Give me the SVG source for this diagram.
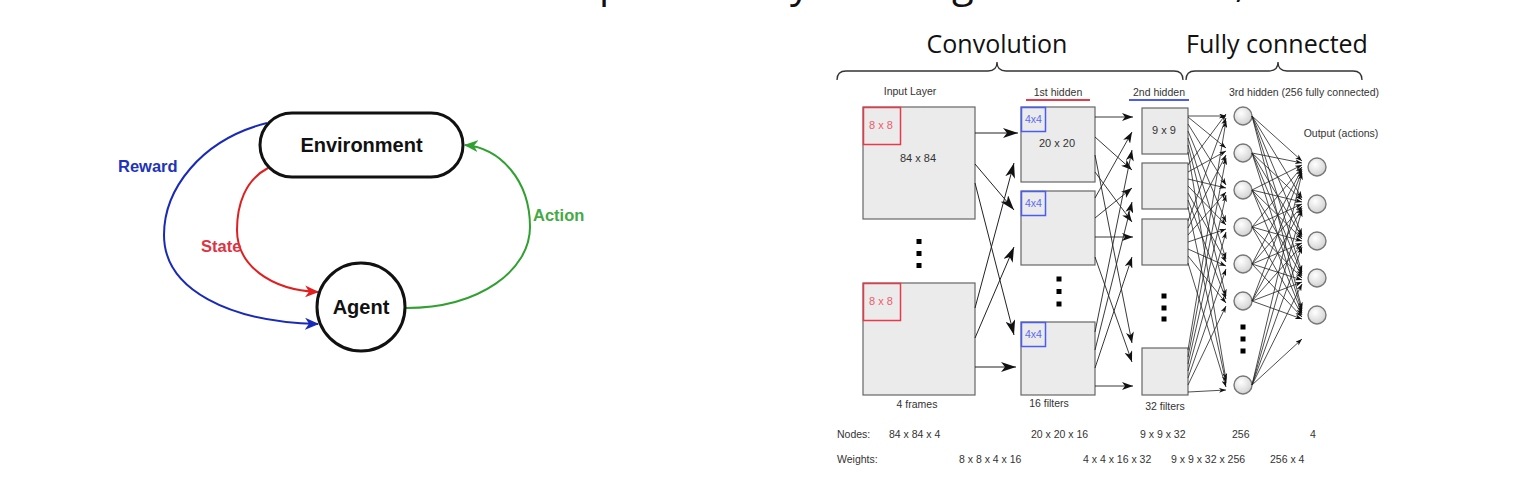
<svg xmlns="http://www.w3.org/2000/svg" width="1522" height="478" viewBox="0 0 1522 478">
<style>
.t{font-family:"Liberation Sans",Arial,sans-serif;font-size:10.5px;fill:#333}
.big{font-family:"Open Sans","DejaVu Sans",sans-serif;font-size:25px;fill:#111}
.lbl{font-family:"Liberation Sans",Arial,sans-serif;font-weight:bold;font-size:16.5px}
.box{fill:#ebebeb;stroke:#666;stroke-width:1.2}
.red{fill:none;stroke:#e8384a;stroke-width:1.5}
.blu{fill:none;stroke:#4a5cf5;stroke-width:1.5}
.nd{fill:url(#cg);stroke:#777;stroke-width:1.4}
.c1 line{stroke:#222;stroke-width:1;marker-end:url(#ab)}
.c2 line{stroke:#222;stroke-width:0.9;marker-end:url(#am)}
.c3 line{stroke:#222;stroke-width:0.8;marker-end:url(#as)}
.dot{fill:#000}
</style>
<defs>
<radialGradient id="cg" cx="0.4" cy="0.35" r="0.7"><stop offset="0" stop-color="#ffffff"/><stop offset="1" stop-color="#cfcfcf"/></radialGradient>
<marker id="ab" viewBox="0 0 15 10" refX="15" refY="5" markerWidth="15" markerHeight="10" markerUnits="userSpaceOnUse" orient="auto"><path d="M0,0 L15,5 L0,10 L4,5 z" fill="#111"/></marker>
<marker id="am" viewBox="0 0 11 8" refX="11" refY="4" markerWidth="11" markerHeight="8" markerUnits="userSpaceOnUse" orient="auto"><path d="M0,0 L11,4 L0,8 L3,4 z" fill="#111"/></marker>
<marker id="as" viewBox="0 0 7 5" refX="7" refY="2.5" markerWidth="7" markerHeight="5" markerUnits="userSpaceOnUse" orient="auto"><path d="M0,0 L7,2.5 L0,5 L2,2.5 z" fill="#111"/></marker>
<marker id="mb" viewBox="0 0 14 12" refX="13" refY="6" markerWidth="14" markerHeight="12" markerUnits="userSpaceOnUse" orient="auto"><path d="M0,0 L14,6 L0,12 L4,6 z" fill="#1a2ab8"/></marker>
<marker id="mr" viewBox="0 0 14 12" refX="13" refY="6" markerWidth="14" markerHeight="12" markerUnits="userSpaceOnUse" orient="auto"><path d="M0,0 L14,6 L0,12 L4,6 z" fill="#e02020"/></marker>
<marker id="mg" viewBox="0 0 14 12" refX="13" refY="6" markerWidth="14" markerHeight="12" markerUnits="userSpaceOnUse" orient="auto"><path d="M0,0 L14,6 L0,12 L4,6 z" fill="#30a030"/></marker>
</defs>
<rect width="1522" height="478" fill="#fff"/>

<!-- cut-off title (only descenders visible) -->
<text class="big" style="font-size:40px" y="-3"><tspan x="599">p</tspan><tspan x="790">y</tspan><tspan x="952">g</tspan><tspan x="1235">,</tspan></text>

<!-- Left: RL loop -->
<g id="connectors-rl" fill="none" stroke-width="2">
<path d="M267,123 C200,140 164,190 164,235 C164,290 230,322 318,324" stroke="#1a2ab8" marker-end="url(#mb)"/>
<path d="M268,168 C245,180 237,205 237,230 C237,265 270,290 318,292" stroke="#e02020" marker-end="url(#mr)"/>
<path d="M406,308 C480,308 530,270 530,227 C530,180 500,148 465,145" stroke="#30a030" marker-end="url(#mg)"/>
</g>
<g id="environment">
<rect x="260" y="113" width="203" height="64" rx="32" fill="#fff" stroke="#111" stroke-width="3"/>
<text x="361.5" y="152" text-anchor="middle" class="lbl" style="font-size:20px" fill="#111">Environment</text>
</g>
<g id="agent">
<circle cx="361" cy="307" r="44" fill="#fff" stroke="#111" stroke-width="3"/>
<text x="361" y="314" text-anchor="middle" class="lbl" style="font-size:20px" fill="#111">Agent</text>
</g>
<text x="118" y="172" class="lbl" fill="#2233bb">Reward</text>
<text x="201" y="252" class="lbl" fill="#dd3344">State</text>
<text x="533" y="221" class="lbl" fill="#44aa44">Action</text>

<!-- Right: CNN -->
<text x="997" y="53" text-anchor="middle" class="big">Convolution</text>
<text x="1277" y="53" text-anchor="middle" class="big">Fully connected</text>
<path d="M837,80 Q837,71 846,71 L988,71 Q997,71 997,62 Q997,71 1006,71 L1174,71 Q1183,71 1183,80" fill="none" stroke="#333" stroke-width="1.3"/>
<path d="M1186,80 Q1186,71 1195,71 L1269,71 Q1278,71 1278,62 Q1278,71 1287,71 L1353,71 Q1362,71 1362,80" fill="none" stroke="#333" stroke-width="1.3"/>

<text x="910" y="95" text-anchor="middle" class="t">Input Layer</text>
<text x="1058" y="96" text-anchor="middle" class="t">1st hidden</text>
<line x1="1026" y1="100" x2="1090" y2="100" stroke="#e8384a" stroke-width="2"/>
<text x="1159" y="96" text-anchor="middle" class="t">2nd hidden</text>
<line x1="1129" y1="100" x2="1189" y2="100" stroke="#4a5cf5" stroke-width="2"/>
<text x="1304" y="96" text-anchor="middle" class="t">3rd hidden (256 fully connected)</text>
<text x="1341" y="137" text-anchor="middle" class="t">Output (actions)</text>

<g id="input-1">
<rect class="box" x="863" y="107" width="112" height="112"/>
<rect class="red" x="863.5" y="107.5" width="37" height="37"/>
<text x="881" y="129" text-anchor="middle" class="t" style="font-size:11px;fill:#f25a6a">8 x 8</text>
<text x="918" y="162" text-anchor="middle" class="t" style="font-size:11px">84 x 84</text>
</g>
<g id="input-dots"><rect class="dot" x="916.5" y="239" width="5" height="5"/><rect class="dot" x="916.5" y="251" width="5" height="5"/><rect class="dot" x="916.5" y="263" width="5" height="5"/></g>
<g id="input-2">
<rect class="box" x="863" y="283" width="112" height="112"/>
<rect class="red" x="863.5" y="283.5" width="37" height="37"/>
<text x="881" y="305" text-anchor="middle" class="t" style="font-size:11px;fill:#f25a6a">8 x 8</text>
</g>
<text x="917" y="408" text-anchor="middle" class="t">4 frames</text>

<g id="h1-a">
<rect class="box" x="1021" y="107" width="74" height="75"/>
<rect class="blu" x="1021.5" y="107.5" width="24" height="24"/>
<text x="1033.5" y="123" text-anchor="middle" class="t" style="fill:#5a6af0">4x4</text>
<text x="1057" y="147" text-anchor="middle" class="t" style="font-size:11px">20 x 20</text>
</g>
<g id="h1-b">
<rect class="box" x="1021" y="191" width="74" height="74"/>
<rect class="blu" x="1021.5" y="191.5" width="24" height="24"/>
<text x="1033.5" y="207" text-anchor="middle" class="t" style="fill:#5a6af0">4x4</text>
</g>
<g id="h1-dots"><rect class="dot" x="1056.5" y="276.5" width="5" height="5"/><rect class="dot" x="1056.5" y="289" width="5" height="5"/><rect class="dot" x="1056.5" y="301.5" width="5" height="5"/></g>
<g id="h1-c">
<rect class="box" x="1021" y="322" width="74" height="73"/>
<rect class="blu" x="1021.5" y="322.5" width="24" height="24"/>
<text x="1033.5" y="338" text-anchor="middle" class="t" style="fill:#5a6af0">4x4</text>
</g>
<text x="1049" y="407" text-anchor="middle" class="t">16 filters</text>

<g id="h2-a"><rect class="box" x="1142" y="108" width="46" height="46"/><text x="1164" y="134" text-anchor="middle" class="t" style="font-size:11px">9 x 9</text></g>
<g id="h2-b"><rect class="box" x="1142" y="163" width="46" height="46"/></g>
<g id="h2-c"><rect class="box" x="1142" y="219" width="46" height="46"/></g>
<g id="h2-dots"><rect class="dot" x="1161.5" y="293.5" width="5" height="5"/><rect class="dot" x="1161.5" y="305.5" width="5" height="5"/><rect class="dot" x="1161.5" y="316.5" width="5" height="5"/></g>
<g id="h2-d"><rect class="box" x="1142" y="348" width="46" height="47"/></g>
<text x="1165" y="410" text-anchor="middle" class="t">32 filters</text>

<g id="h3">
<circle class="nd" cx="1243" cy="116" r="9"/><circle class="nd" cx="1243" cy="153" r="9"/><circle class="nd" cx="1243" cy="190" r="9"/><circle class="nd" cx="1243" cy="227" r="9"/><circle class="nd" cx="1243" cy="264" r="9"/><circle class="nd" cx="1243" cy="301" r="9"/><circle class="nd" cx="1243" cy="385" r="9"/>
<rect class="dot" x="1240.5" y="324.5" width="5" height="5"/><rect class="dot" x="1240.5" y="336.5" width="5" height="5"/><rect class="dot" x="1240.5" y="348.5" width="5" height="5"/>
</g>
<g id="out">
<circle class="nd" cx="1317" cy="167" r="9"/><circle class="nd" cx="1317" cy="204" r="9"/><circle class="nd" cx="1317" cy="241" r="9"/><circle class="nd" cx="1317" cy="278" r="9"/><circle class="nd" cx="1317" cy="315" r="9"/>
</g>

<g id="connectors">
<g class="c1">
<line x1="975" y1="133" x2="1018" y2="133"/>
<line x1="975" y1="164" x2="1014" y2="210"/>
<line x1="975" y1="183" x2="1014" y2="335"/>
<line x1="975" y1="308" x2="1014" y2="163"/>
<line x1="975" y1="338" x2="1014" y2="247"/>
<line x1="975" y1="367" x2="1016" y2="367"/>
</g>
<g class="c2">
<line x1="1095" y1="117" x2="1133" y2="117"/>
<line x1="1095" y1="137" x2="1132" y2="170"/>
<line x1="1095" y1="155" x2="1132" y2="343"/>
<line x1="1095" y1="172" x2="1132" y2="222"/>
<line x1="1095" y1="198" x2="1132" y2="132"/>
<line x1="1095" y1="218" x2="1132" y2="188"/>
<line x1="1095" y1="237" x2="1133" y2="237"/>
<line x1="1095" y1="257" x2="1132" y2="362"/>
<line x1="1095" y1="332" x2="1132" y2="150"/>
<line x1="1095" y1="350" x2="1132" y2="202"/>
<line x1="1095" y1="368" x2="1132" y2="257"/>
<line x1="1095" y1="386" x2="1133" y2="386"/>
</g>
<g class="c3">
<line x1="1188" y1="116" x2="1226" y2="116"/>
<line x1="1188" y1="117" x2="1226" y2="148"/>
<line x1="1188" y1="124" x2="1226" y2="185"/>
<line x1="1188" y1="131" x2="1226" y2="222"/>
<line x1="1188" y1="138" x2="1226" y2="259"/>
<line x1="1188" y1="145" x2="1226" y2="296"/>
<line x1="1188" y1="152" x2="1226" y2="380"/>
<line x1="1188" y1="165" x2="1226" y2="114"/>
<line x1="1188" y1="172" x2="1226" y2="151"/>
<line x1="1188" y1="179" x2="1226" y2="188"/>
<line x1="1188" y1="186" x2="1226" y2="225"/>
<line x1="1188" y1="193" x2="1226" y2="262"/>
<line x1="1188" y1="200" x2="1226" y2="299"/>
<line x1="1188" y1="207" x2="1226" y2="383"/>
<line x1="1188" y1="221" x2="1226" y2="118"/>
<line x1="1188" y1="228" x2="1226" y2="155"/>
<line x1="1188" y1="235" x2="1226" y2="192"/>
<line x1="1188" y1="242" x2="1226" y2="229"/>
<line x1="1188" y1="249" x2="1226" y2="266"/>
<line x1="1188" y1="256" x2="1226" y2="303"/>
<line x1="1188" y1="263" x2="1226" y2="387"/>
<line x1="1188" y1="350" x2="1226" y2="121"/>
<line x1="1188" y1="357" x2="1226" y2="158"/>
<line x1="1188" y1="364" x2="1226" y2="195"/>
<line x1="1188" y1="371" x2="1226" y2="232"/>
<line x1="1188" y1="378" x2="1226" y2="269"/>
<line x1="1188" y1="385" x2="1226" y2="306"/>
<line x1="1188" y1="392" x2="1226" y2="390"/>
<line x1="1252" y1="116" x2="1302" y2="161"/><line x1="1252" y1="116" x2="1302" y2="198"/><line x1="1252" y1="116" x2="1302" y2="235"/><line x1="1252" y1="116" x2="1302" y2="272"/><line x1="1252" y1="116" x2="1302" y2="309"/>
<line x1="1252" y1="153" x2="1302" y2="163"/><line x1="1252" y1="153" x2="1302" y2="200"/><line x1="1252" y1="153" x2="1302" y2="237"/><line x1="1252" y1="153" x2="1302" y2="274"/><line x1="1252" y1="153" x2="1302" y2="311"/>
<line x1="1252" y1="190" x2="1302" y2="165"/><line x1="1252" y1="190" x2="1302" y2="202"/><line x1="1252" y1="190" x2="1302" y2="239"/><line x1="1252" y1="190" x2="1302" y2="276"/><line x1="1252" y1="190" x2="1302" y2="313"/>
<line x1="1252" y1="227" x2="1302" y2="167"/><line x1="1252" y1="227" x2="1302" y2="204"/><line x1="1252" y1="227" x2="1302" y2="241"/><line x1="1252" y1="227" x2="1302" y2="278"/><line x1="1252" y1="227" x2="1302" y2="315"/>
<line x1="1252" y1="264" x2="1302" y2="169"/><line x1="1252" y1="264" x2="1302" y2="206"/><line x1="1252" y1="264" x2="1302" y2="243"/><line x1="1252" y1="264" x2="1302" y2="280"/><line x1="1252" y1="264" x2="1302" y2="317"/>
<line x1="1252" y1="301" x2="1302" y2="171"/><line x1="1252" y1="301" x2="1302" y2="208"/><line x1="1252" y1="301" x2="1302" y2="245"/><line x1="1252" y1="301" x2="1302" y2="282"/><line x1="1252" y1="301" x2="1302" y2="319"/>
<line x1="1252" y1="385" x2="1302" y2="173"/><line x1="1252" y1="385" x2="1302" y2="210"/><line x1="1252" y1="385" x2="1302" y2="247"/><line x1="1252" y1="385" x2="1302" y2="284"/><line x1="1252" y1="385" x2="1302" y2="339"/>
</g>
</g>

<g id="table">
<text x="837" y="438" class="t">Nodes:</text>
<text x="889" y="438" class="t">84 x 84 x 4</text>
<text x="1031" y="438" class="t">20 x 20 x 16</text>
<text x="1140" y="438" class="t">9 x 9 x 32</text>
<text x="1232" y="438" class="t">256</text>
<text x="1310" y="438" class="t">4</text>
<text x="837" y="463" class="t">Weights:</text>
<text x="959" y="463" class="t">8 x 8 x 4 x 16</text>
<text x="1083" y="463" class="t">4 x 4 x 16 x 32</text>
<text x="1171" y="463" class="t">9 x 9 x 32 x 256</text>
<text x="1270" y="463" class="t">256 x 4</text>
</g>
</svg>
